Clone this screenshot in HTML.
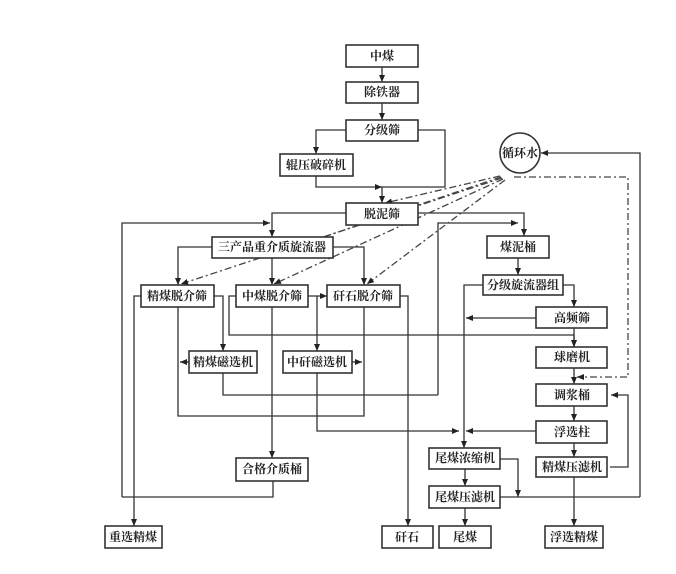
<!DOCTYPE html>
<html><head><meta charset="utf-8"><style>
html,body{margin:0;padding:0;background:#fff;}
svg{display:block;}
text{font-family:"Liberation Serif","Noto Serif CJK SC","Noto Sans CJK SC",serif;font-size:12px;fill:#222;text-anchor:middle;dominant-baseline:central;font-weight:bold;}
.b{fill:#fff;stroke:#333;stroke-width:1.6;}
.l{fill:none;stroke:#333;stroke-width:1.3;}
.d{fill:none;stroke:#444;stroke-width:1.3;stroke-dasharray:7,3,2,3;}
</style></head><body>
<svg width="676" height="574" viewBox="0 0 676 574">
<defs><marker id="a" markerWidth="8" markerHeight="8" refX="7" refY="4" orient="auto" markerUnits="userSpaceOnUse"><path d="M0,1 L7,4 L0,7z" fill="#222"/></marker></defs>
<g class="l" marker-end="url(#a)">
<path d="M382,67V82"/><path d="M382,103V120"/>
<path d="M346,130H316V154"/>
<path d="M418,130H445V187H382V203"/>
<path d="M316,176V187H382"/>
<path d="M346,213H272V237"/>
<path d="M122,497V223H270"/>
<path d="M418,213H524V236"/>
<path d="M438,395V223H518"/>
<path d="M212,247H178V285"/>
<path d="M272,258V285"/>
<path d="M333,247H364V285"/>
<path d="M518,258V275"/>
<path d="M563,285H574V307"/>
<path d="M483,285H464V448"/>
<path d="M536,318H466"/>
<path d="M574,328V347"/>
<path d="M236,296H229V335H574V347"/>
<path d="M574,368V384"/>
<path d="M574,406V421"/>
<path d="M574,443V457"/>
<path d="M610,467H628V395H611"/>
<path d="M537,431H466"/>
<path d="M317,373V431H459"/>
<path d="M500,459H518V497"/>
<path d="M465,469V486"/>
<path d="M465,508V526"/>
<path d="M574,477V526"/>
<path d="M214,296H223V351"/>
<path d="M308,296H327"/>
<path d="M317,296V351"/>
<path d="M272,307V458"/>
<path d="M400,296H408V526"/>
<path d="M141,296H134V526"/>
<path d="M189,362H180"/>
<path d="M352,362H362"/>
<path d="M640,497V153H541"/>
</g>
<g class="l">
<path d="M178,307V416H364V307"/>
<path d="M223,373V395H438"/>
<path d="M273,481V497H122"/>
<path d="M500,497H640"/>
</g>
<g class="d" marker-end="url(#a)">
<path d="M500,176L385,203"/>
<path d="M501,177L285,250"/>
<path d="M502,178L181,284"/>
<path d="M503,179L274,284"/>
<path d="M505,180L367,284"/>
<path d="M514,177H628V377H577"/>
</g>
<circle cx="520" cy="153" r="20" class="b"/><text x="520" y="153">循环水</text>
<g>
<rect class="b" x="346" y="45" width="72" height="22"/><text x="382" y="56">中煤</text>
<rect class="b" x="346" y="82" width="72" height="21"/><text x="382" y="92">除铁器</text>
<rect class="b" x="346" y="120" width="72" height="21"/><text x="382" y="130">分级筛</text>
<rect class="b" x="280" y="154" width="73" height="22"/><text x="316" y="165">辊压破碎机</text>
<rect class="b" x="346" y="203" width="72" height="22"/><text x="382" y="214">脱泥筛</text>
<rect class="b" x="212" y="237" width="121" height="21"/><text x="272" y="247">三产品重介质旋流器</text>
<rect class="b" x="487" y="236" width="62" height="22"/><text x="518" y="247">煤泥桶</text>
<rect class="b" x="483" y="275" width="80" height="20"/><text x="523" y="285">分级旋流器组</text>
<rect class="b" x="141" y="285" width="73" height="22"/><text x="177" y="296">精煤脱介筛</text>
<rect class="b" x="236" y="285" width="72" height="22"/><text x="272" y="296">中煤脱介筛</text>
<rect class="b" x="327" y="285" width="73" height="22"/><text x="363" y="296">矸石脱介筛</text>
<rect class="b" x="536" y="307" width="71" height="21"/><text x="572" y="318">高频筛</text>
<rect class="b" x="536" y="347" width="71" height="21"/><text x="572" y="357">球磨机</text>
<rect class="b" x="189" y="351" width="68" height="22"/><text x="223" y="362">精煤磁选机</text>
<rect class="b" x="283" y="351" width="69" height="22"/><text x="317" y="362">中矸磁选机</text>
<rect class="b" x="536" y="384" width="71" height="22"/><text x="572" y="395">调浆桶</text>
<rect class="b" x="536" y="421" width="71" height="22"/><text x="572" y="432">浮选柱</text>
<rect class="b" x="429" y="448" width="71" height="21"/><text x="465" y="458">尾煤浓缩机</text>
<rect class="b" x="536" y="457" width="71" height="20"/><text x="572" y="467">精煤压滤机</text>
<rect class="b" x="236" y="458" width="72" height="23"/><text x="272" y="469">合格介质桶</text>
<rect class="b" x="429" y="486" width="71" height="22"/><text x="465" y="497">尾煤压滤机</text>
<rect class="b" x="105" y="526" width="57" height="22"/><text x="133" y="537">重选精煤</text>
<rect class="b" x="382" y="526" width="51" height="22"/><text x="407" y="537">矸石</text>
<rect class="b" x="439" y="526" width="52" height="22"/><text x="465" y="537">尾煤</text>
<rect class="b" x="545" y="526" width="58" height="22"/><text x="574" y="537">浮选精煤</text>
</g>
</svg>
</body></html>
